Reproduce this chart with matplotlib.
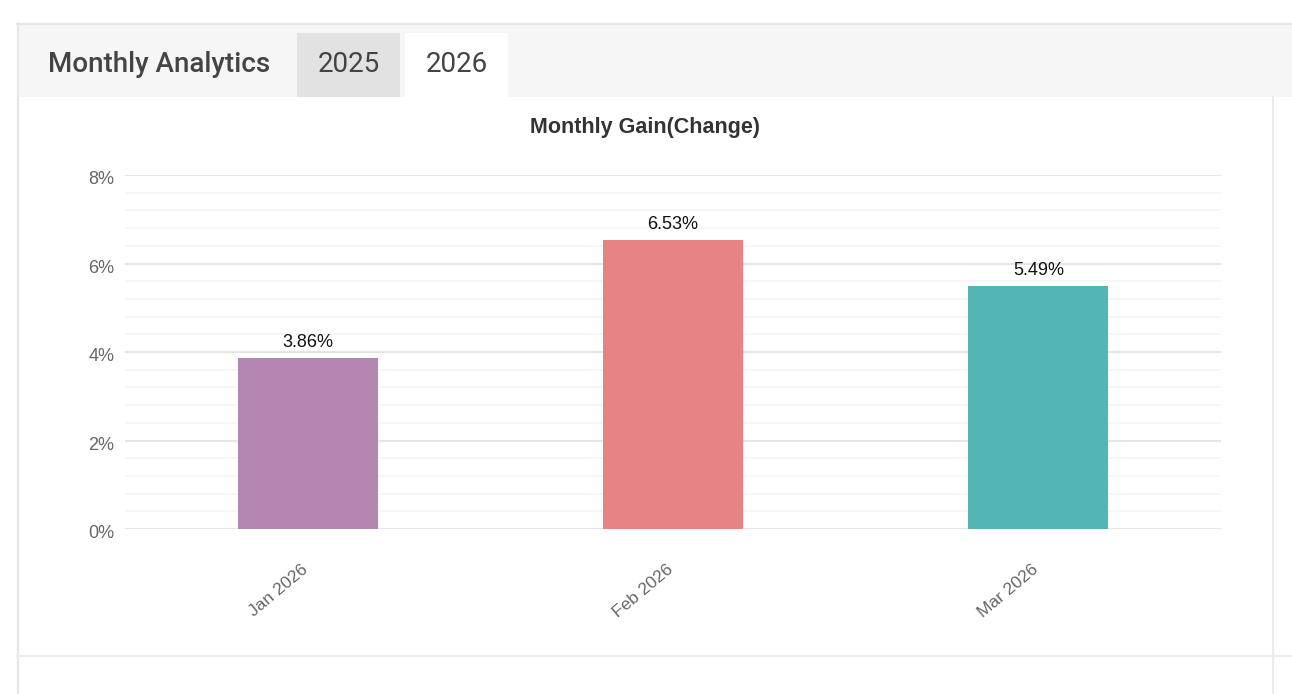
import matplotlib
matplotlib.use("Agg")
import matplotlib.pyplot as plt
from matplotlib.patches import Rectangle
from matplotlib.lines import Line2D
from matplotlib.ticker import MultipleLocator, FuncFormatter
from matplotlib.transforms import ScaledTranslation

categories = ["Jan 2026", "Feb 2026", "Mar 2026"]
gains = [3.86, 6.53, 5.49]
bar_colors = ["#b586b1", "#e88385", "#54b5b5"]
tabs = ["2025", "2026"]
header_title = "Monthly Analytics"
chart_title = "Monthly Gain(Change)"

W, H = 1292, 694
fig = plt.figure(figsize=(W / 100, H / 100), dpi=100)
fig.patch.set_facecolor("white")


def rect(x0, y0, x1, y1, color, z=0):
    fig.patches.append(Rectangle((x0 / W, 1 - y1 / H), (x1 - x0) / W, (y1 - y0) / H,
                                 transform=fig.transFigure, facecolor=color,
                                 edgecolor="none", zorder=z))


def hline(x0, x1, y, color, lw=1.5):
    fig.add_artist(Line2D([x0 / W, x1 / W], [1 - y / H, 1 - y / H], color=color, lw=lw,
                          transform=fig.transFigure))


def vline(x, y0, y1, color, lw=1.5):
    fig.add_artist(Line2D([x / W, x / W], [1 - y0 / H, 1 - y1 / H], color=color, lw=lw,
                          transform=fig.transFigure))


# header band and tabs
rect(18, 24, W, 97, "#f6f6f6")
rect(297, 33, 400, 97, "#e2e2e2")
rect(405, 33, 508, 97, "#ffffff")
hline(17, W, 23.5, "#e6e6e6", 1.6)
vline(17.5, 23, H, "#e6e6e6", 1.6)
vline(1273, 97, H, "#ececec", 1.4)
hline(17, W, 656, "#ececec", 1.4)

fig.text(48 / W, 1 - 65 / H, header_title, fontsize=20, fontweight="medium",
         family="Roboto", color="#444444", va="center", ha="left")
fig.text(348.5 / W, 1 - 65 / H, tabs[0], fontsize=20, family="Roboto",
         color="#444444", va="center", ha="center")
fig.text(457 / W, 1 - 65 / H, tabs[1], fontsize=20, family="Roboto",
         color="#444444", va="center", ha="center")

fig.text(645 / W, 1 - 127 / H, chart_title, fontsize=15.5, fontweight="bold",
         family="Liberation Sans", color="#333333", va="center", ha="center")

ax = fig.add_axes([125 / W, 1 - 529 / H, (1221 - 125) / W, (529 - 175) / H])
ax.set_facecolor("none")
x = list(range(len(categories)))
bars = ax.bar(x, gains, width=0.383, color=bar_colors, zorder=3)
ax.set_xlim(-0.5, len(categories) - 0.5)
ax.set_ylim(0, 8)
ax.yaxis.set_major_locator(MultipleLocator(2))
ax.yaxis.set_minor_locator(MultipleLocator(0.4))
ax.yaxis.set_major_formatter(FuncFormatter(lambda v, p: f"{v:.0f}%"))
ax.grid(axis="y", which="major", color="#e6e6e6", lw=1.5, zorder=0)
ax.grid(axis="y", which="minor", color="#f5f5f5", lw=1.2, zorder=0)
for s in ax.spines.values():
    s.set_visible(False)
ax.tick_params(axis="both", which="both", length=0)
ax.tick_params(axis="y", pad=7.5, labelsize=13, labelcolor="#666666")
for lab in ax.get_yticklabels():
    lab.set_family("Liberation Sans")
    lab.set_transform(lab.get_transform() + ScaledTranslation(0, -2.5 / 100, fig.dpi_scale_trans))
ax.set_xticks(x)
ax.set_xticklabels(categories, rotation=40, ha="right", rotation_mode="anchor",
                   fontsize=12.5, color="#666666", family="Liberation Sans")
ax.tick_params(axis="x", pad=23.5)
for lab in ax.get_xticklabels():
    lab.set_transform(lab.get_transform() + ScaledTranslation(-7 / 100, 0, fig.dpi_scale_trans))
for xi, v in zip(x, gains):
    ax.annotate(f"{v:.2f}%", (xi, v), xytext=(0, 5), textcoords="offset points",
                ha="center", va="bottom", fontsize=13, color="#111111",
                family="Liberation Sans")

fig.savefig("out.png", dpi=100, facecolor="white")
